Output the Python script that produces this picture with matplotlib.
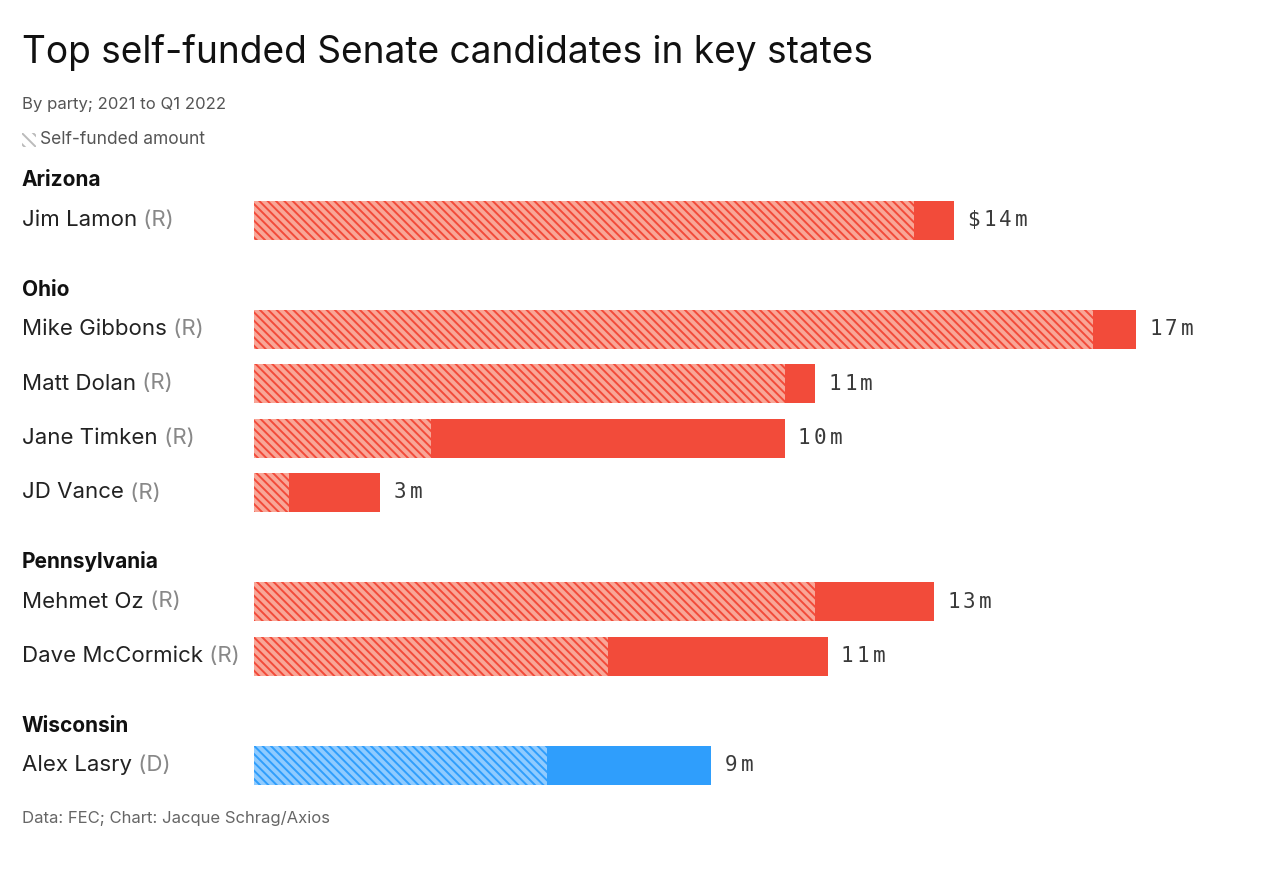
import matplotlib.pyplot as plt
from matplotlib.transforms import blended_transform_factory

# data (millions of dollars)
states = ["Arizona", "Ohio", "Pennsylvania", "Wisconsin"]
names = ["Jim Lamon", "Mike Gibbons", "Matt Dolan", "Jane Timken", "JD Vance",
         "Mehmet Oz", "Dave McCormick", "Alex Lasry"]
party = ["R", "R", "R", "R", "R", "R", "R", "D"]
state_of = [0, 1, 1, 1, 1, 2, 2, 3]
total = [13.85, 17.45, 11.1, 10.5, 2.5, 13.45, 11.35, 9.05]
self_funded = [13.05, 16.6, 10.5, 3.5, 0.7, 11.1, 7.0, 5.8]
labels = ["$14m", "17m", "11m", "10m", "3m", "13m", "11m", "9m"]

W, H = 1280, 869
plt.rcParams['font.family'] = ['Inter', 'DejaVu Sans']
plt.rcParams['hatch.linewidth'] = 1.4

fig = plt.figure(figsize=(W / 100, H / 100), dpi=100)
ax = fig.add_axes([254 / W, 0, (1136 - 254) / W, 1])
ax.set_xlim(0, max(total))
ax.set_ylim(H, 0)
ax.axis('off')

solid = {"R": "#f24b3a", "D": "#2f9efc"}
light = {"R": "#f9a697", "D": "#8fcbff"}

trans = blended_transform_factory(fig.transFigure, ax.transData)

# layout: one slot per state header and per candidate
y0, step = 165.5, 54.5
slot = 0
prev_state = None
for i, name in enumerate(names):
    if state_of[i] != prev_state:
        ax.text(22 / W, y0 + slot * step + 15, states[state_of[i]], transform=trans,
                fontsize=15, fontweight='bold', color='#111111', va='center')
        prev_state = state_of[i]
        slot += 1
    y = y0 + slot * step
    p = party[i]
    ax.barh(y, self_funded[i], height=39, color=light[p], edgecolor=solid[p],
            hatch='\\\\\\\\', linewidth=0)
    ax.barh(y, total[i] - self_funded[i], left=self_funded[i], height=39,
            color=solid[p], linewidth=0)
    # monospaced value label, wide character advance
    for k, ch in enumerate(labels[i]):
        ax.annotate(ch, (total[i], y), xytext=(9.5 + k * 11.4, 0),
                    textcoords='offset points', fontsize=15,
                    family='DejaVu Sans Mono', color='#3a3a3a', va='center')
    t = ax.text(22 / W, y, name, transform=trans, fontsize=16, color='#222222',
                va='center')
    ax.annotate(" (%s)" % p, xy=(1, 0.5), xycoords=t, fontsize=16, color='#888888',
                va='center')
    slot += 1

fig.text(22 / W, 1 - 53 / H, "Top self-funded Senate candidates in key states",
         fontsize=26.7, color='#111111', va='center')
fig.text(22 / W, 1 - 105 / H, "By party; 2021 to Q1 2022", fontsize=12,
         color='#555555', va='center')
fig.patches.append(plt.Rectangle((22 / W, 1 - 147 / H), 14 / W, 14 / H,
                                 transform=fig.transFigure, facecolor='white',
                                 edgecolor='#bbbbbb', hatch='\\\\\\', linewidth=0))
fig.text(40 / W, 1 - 140 / H, "Self-funded amount", fontsize=12.5,
         color='#555555', va='center')
fig.text(22 / W, 1 - 818 / H, "Data: FEC; Chart: Jacque Schrag/Axios", fontsize=12,
         color='#666666', va='center')

fig.savefig("out.png", dpi=100, facecolor='white')
